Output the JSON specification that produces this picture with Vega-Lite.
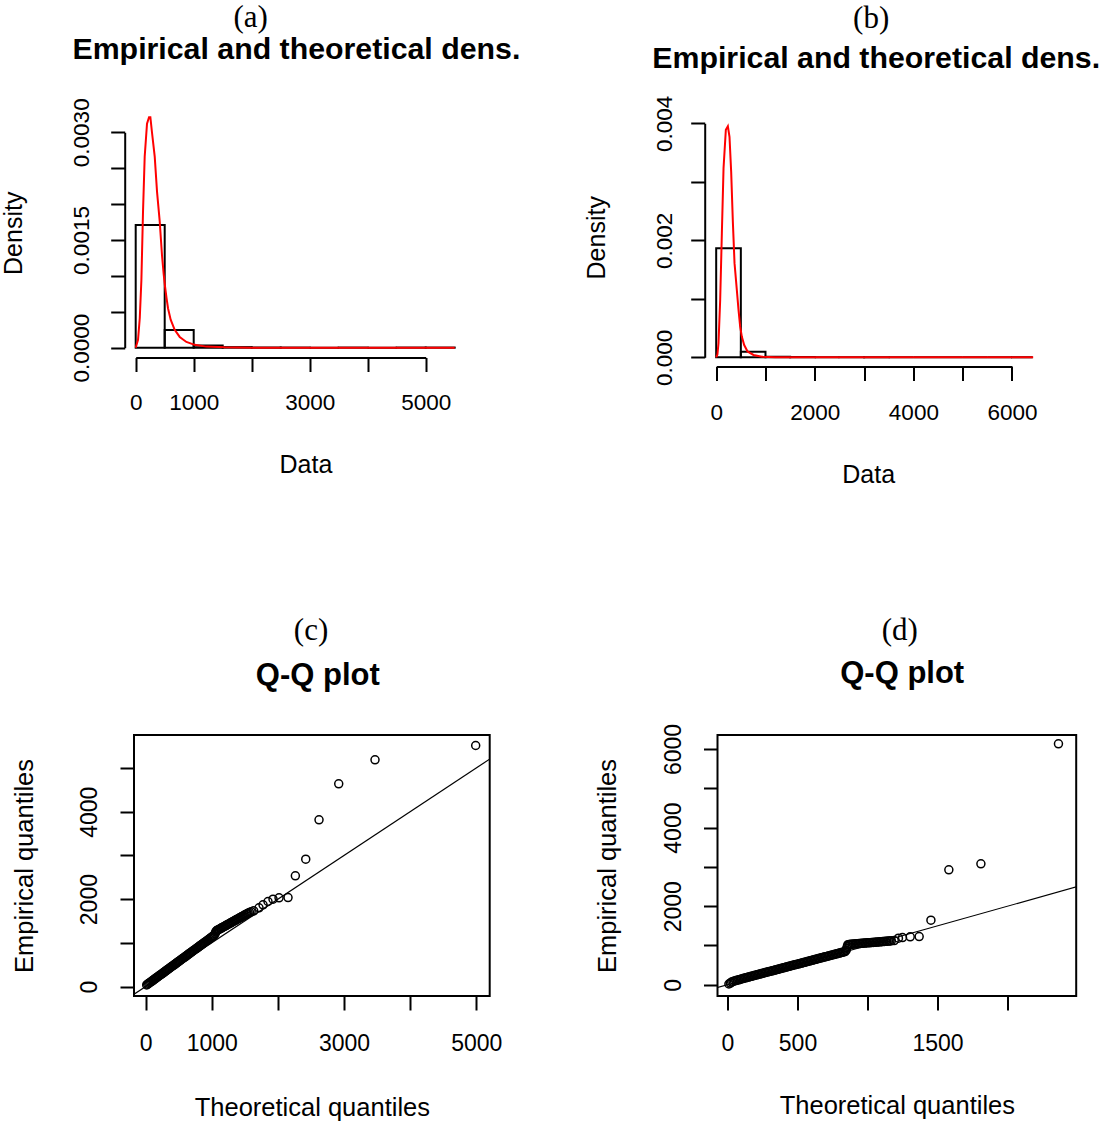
{
  "$schema": "https://vega.github.io/schema/vega-lite/v6.json",
  "background": "white",
  "padding": {"left": 1, "top": 2, "right": 5, "bottom": 5},
  "autosize": {"type": "pad"},
  "config": {
    "font": "Liberation Sans",
    "view": {"stroke": null},
    "axis": {
      "grid": false,
      "labelColor": "black",
      "tickColor": "black",
      "domainColor": "black",
      "titleColor": "black",
      "labelFont": "Liberation Sans",
      "titleFont": "Liberation Sans",
      "titleFontWeight": "normal",
      "labelOverlap": false,
      "labelFlush": false,
      "tickWidth": 2,
      "domainWidth": 2,
      "tickSize": 14
    },
    "title": {"font": "Liberation Serif", "fontSize": 31, "fontWeight": "normal", "color": "black", "anchor": "middle", "frame": "group"}
  },
  "columns": 2,
  "spacing": {"row": 366, "column": 224.5},
  "bounds": "flush",
  "align": "all",
  "concat": [
    {
      "width": 342.9,
      "height": 249.5,
      "view": {"stroke": null},
      "title": {"text": "(a)", "dx": -54.75, "offset": 0},
      "resolve": {"axis": {"x": "independent"}},
      "layer": [
        {
          "data": {"values": [
            {"start": 0, "end": 500, "density": 0.001709},
            {"start": 500, "end": 1000, "density": 0.000246},
            {"start": 1000, "end": 1500, "density": 0.00003},
            {"start": 1500, "end": 2000, "density": 0.000008},
            {"start": 2000, "end": 2500, "density": 0.000004},
            {"start": 2500, "end": 3000, "density": 0.000002},
            {"start": 3000, "end": 3500, "density": 0},
            {"start": 3500, "end": 4000, "density": 0.000002},
            {"start": 4000, "end": 4500, "density": 0},
            {"start": 4500, "end": 5000, "density": 0.000002},
            {"start": 5000, "end": 5500, "density": 0.000002}
          ]},
          "mark": {"type": "rect", "fill": "white", "fillOpacity": 0, "stroke": "black", "strokeWidth": 2},
          "encoding": {
            "x": {"field": "start", "type": "quantitative", "scale": {"domain": [-29.3, 5882.8], "nice": false, "zero": false},
              "axis": {"title": "Data", "values": [0, 1000, 2000, 3000, 4000, 5000], "format": "d",
                "labelExpr": "indexof([0,1000,3000,5000], datum.value) >= 0 ? datum.label : ''",
                "labelFontSize": 22.5, "labelPadding": 20, "titleFontSize": 25, "titlePadding": 38,
                "domainDash": [290, 3000], "domainDashOffset": 3288.3}},
            "x2": {"field": "end"},
            "y": {"field": "density", "type": "quantitative", "scale": {"domain": [-0.0001365, 0.003338], "nice": false, "zero": false},
              "axis": {"title": "Density", "offset": 9.3, "values": [0, 0.0005, 0.001, 0.0015, 0.002, 0.0025, 0.003], "format": ".4f",
                "labelExpr": "datum.value === 0 || datum.value === 0.0015 || datum.value === 0.003 ? datum.label : ''",
                "labelAngle": -90, "labelAlign": "center", "labelBaseline": "alphabetic", "labelPadding": 22,
                "labelFontSize": 22.5, "titleFontSize": 25, "titlePadding": 44,
                "domainDash": [215.4, 3000], "domainDashOffset": 3205.6}},
            "y2": {"datum": 0}
          }
        },
        {
          "data": {"values": [
            {"x": 0, "d": 0}, {"x": 40, "d": 0.00011}, {"x": 70, "d": 0.00041}, {"x": 98, "d": 0.00094},
            {"x": 126, "d": 0.00189}, {"x": 155, "d": 0.00266}, {"x": 195, "d": 0.00312}, {"x": 230, "d": 0.00321},
            {"x": 253, "d": 0.00321}, {"x": 282, "d": 0.00299}, {"x": 328, "d": 0.00266}, {"x": 368, "d": 0.00217},
            {"x": 414, "d": 0.00176}, {"x": 454, "d": 0.00128}, {"x": 483, "d": 0.00102}, {"x": 506, "d": 0.00085},
            {"x": 530, "d": 0.0007}, {"x": 557, "d": 0.00055}, {"x": 603, "d": 0.00039}, {"x": 672, "d": 0.00025},
            {"x": 759, "d": 0.00015}, {"x": 874, "d": 0.00008}, {"x": 1017, "d": 0.00004}, {"x": 1218, "d": 0.000015},
            {"x": 1534, "d": 0.000005}, {"x": 2000, "d": 0.000001}, {"x": 3000, "d": 0}, {"x": 4000, "d": 0},
            {"x": 5000, "d": 0}, {"x": 5500, "d": 0}
          ]},
          "mark": {"type": "line", "color": "#ff0000", "strokeWidth": 2},
          "encoding": {
            "x": {"field": "x", "type": "quantitative",
              "axis": {"orient": "top", "title": "Empirical and theoretical dens.", "labels": false, "ticks": false, "domain": false,
                "titleFontSize": 30.3, "titleFontWeight": "bold", "titleX": 161.9, "titleY": -49.7, "titleAlign": "center", "titleBaseline": "alphabetic", "titleAngle": 0}},
            "y": {"field": "d", "type": "quantitative"}
          }
        }
      ]
    },
    {
      "width": 314.2,
      "height": 258.5,
      "view": {"stroke": null},
      "title": {"text": "(b)", "dx": -3.4, "offset": 8.6},
      "resolve": {"axis": {"x": "independent"}},
      "layer": [
        {
          "data": {"values": [
            {"start": 0, "end": 500, "density": 0.001863},
            {"start": 500, "end": 1000, "density": 0.0000957},
            {"start": 1000, "end": 1500, "density": 0.00001},
            {"start": 1500, "end": 2000, "density": 0.000004},
            {"start": 2000, "end": 2500, "density": 0},
            {"start": 2500, "end": 3000, "density": 0.000002},
            {"start": 3000, "end": 3500, "density": 0.000002},
            {"start": 3500, "end": 4000, "density": 0},
            {"start": 4000, "end": 4500, "density": 0},
            {"start": 4500, "end": 5000, "density": 0},
            {"start": 5000, "end": 5500, "density": 0},
            {"start": 5500, "end": 6000, "density": 0},
            {"start": 6000, "end": 6400, "density": 0.000002}
          ]},
          "mark": {"type": "rect", "fill": "white", "fillOpacity": 0, "stroke": "black", "strokeWidth": 2},
          "encoding": {
            "x": {"field": "start", "type": "quantitative", "scale": {"domain": [-233, 6400], "range": [-12.8, 314.2], "nice": false, "zero": false},
              "axis": {"title": "Data", "values": [0, 1000, 2000, 3000, 4000, 5000, 6000], "format": "d",
                "labelExpr": "indexof([0,2000,4000,6000], datum.value) >= 0 ? datum.label : ''",
                "labelFontSize": 22.5, "labelPadding": 21, "titleFontSize": 25, "titlePadding": 38.5,
                "domainDash": [295.8, 3000], "domainDashOffset": 3284.3}},
            "x2": {"field": "end"},
            "y": {"field": "density", "type": "quantitative", "scale": {"domain": [-0.000157, 0.004262], "nice": false, "zero": false},
              "axis": {"title": "Density", "offset": 12.8, "values": [0, 0.001, 0.002, 0.003, 0.004], "format": ".3f",
                "labelExpr": "datum.value === 0 || datum.value === 0.002 || datum.value === 0.004 ? datum.label : ''",
                "labelAngle": -90, "labelAlign": "center", "labelBaseline": "alphabetic", "labelPadding": 19,
                "labelFontSize": 22.5, "titleFontSize": 25, "titlePadding": 44,
                "domainDash": [234, 3000], "domainDashOffset": 3224.8}},
            "y2": {"datum": 0}
          }
        },
        {
          "data": {"values": [
            {"x": 0, "d": 0}, {"x": 25, "d": 0.00005}, {"x": 47, "d": 0.00024}, {"x": 81, "d": 0.00098},
            {"x": 115, "d": 0.00212}, {"x": 149, "d": 0.00323}, {"x": 196, "d": 0.00389}, {"x": 237, "d": 0.00395},
            {"x": 270, "d": 0.00377}, {"x": 304, "d": 0.00317}, {"x": 338, "d": 0.00232}, {"x": 372, "d": 0.00161},
            {"x": 419, "d": 0.00115}, {"x": 453, "d": 0.00081}, {"x": 487, "d": 0.00052}, {"x": 521, "d": 0.00035},
            {"x": 568, "d": 0.00021}, {"x": 636, "d": 0.0001}, {"x": 757, "d": 0.00004}, {"x": 926, "d": 0.00001},
            {"x": 1200, "d": 0.000002}, {"x": 2000, "d": 0}, {"x": 4000, "d": 0}, {"x": 6000, "d": 0}, {"x": 6430, "d": 0}
          ]},
          "mark": {"type": "line", "color": "#ff0000", "strokeWidth": 2},
          "encoding": {
            "x": {"field": "x", "type": "quantitative",
              "axis": {"orient": "top", "title": "Empirical and theoretical dens.", "labels": false, "ticks": false, "domain": false,
                "titleFontSize": 30.3, "titleFontWeight": "bold", "titleX": 158.2, "titleY": -40.3, "titleAlign": "center", "titleBaseline": "alphabetic", "titleAngle": 0}},
            "y": {"field": "d", "type": "quantitative"}
          }
        }
      ]
    },
    {
      "width": 355.7,
      "height": 261,
      "view": {"stroke": "black", "strokeWidth": 2},
      "title": {"text": "(c)", "dx": -0.8, "offset": 12.3},
      "resolve": {"axis": {"x": "independent"}},
      "layer": [
        {
          "data": {"values": [
            {"q": 15, "e": 37}, {"q": 30, "e": 53}, {"q": 45, "e": 70}, {"q": 60, "e": 87}, {"q": 75, "e": 103},
            {"q": 90, "e": 120}, {"q": 105, "e": 137}, {"q": 120, "e": 153}, {"q": 135, "e": 170}, {"q": 150, "e": 187},
            {"q": 165, "e": 203}, {"q": 180, "e": 220}, {"q": 195, "e": 236}, {"q": 210, "e": 253}, {"q": 225, "e": 270},
            {"q": 240, "e": 286}, {"q": 255, "e": 303}, {"q": 270, "e": 320}, {"q": 285, "e": 336}, {"q": 300, "e": 353},
            {"q": 315, "e": 370}, {"q": 330, "e": 386}, {"q": 345, "e": 403}, {"q": 360, "e": 420}, {"q": 375, "e": 436},
            {"q": 390, "e": 453}, {"q": 405, "e": 470}, {"q": 420, "e": 486}, {"q": 435, "e": 503}, {"q": 450, "e": 520},
            {"q": 465, "e": 536}, {"q": 480, "e": 553}, {"q": 495, "e": 569}, {"q": 510, "e": 586}, {"q": 525, "e": 603},
            {"q": 540, "e": 619}, {"q": 555, "e": 636}, {"q": 570, "e": 653}, {"q": 585, "e": 669}, {"q": 600, "e": 686},
            {"q": 615, "e": 703}, {"q": 630, "e": 719}, {"q": 645, "e": 736}, {"q": 660, "e": 753}, {"q": 675, "e": 769},
            {"q": 690, "e": 786}, {"q": 705, "e": 803}, {"q": 720, "e": 819}, {"q": 735, "e": 836}, {"q": 750, "e": 853},
            {"q": 765, "e": 869}, {"q": 780, "e": 886}, {"q": 795, "e": 902}, {"q": 810, "e": 919}, {"q": 825, "e": 936},
            {"q": 840, "e": 952}, {"q": 855, "e": 969}, {"q": 870, "e": 986}, {"q": 885, "e": 1002}, {"q": 900, "e": 1019},
            {"q": 915, "e": 1036}, {"q": 930, "e": 1052}, {"q": 945, "e": 1069}, {"q": 960, "e": 1086}, {"q": 975, "e": 1102},
            {"q": 990, "e": 1119}, {"q": 1005, "e": 1136}, {"q": 1020, "e": 1152}, {"q": 1035, "e": 1169}, {"q": 1050, "e": 1210},
            {"q": 1060, "e": 1250}, {"q": 1070, "e": 1275}, {"q": 1085, "e": 1288}, {"q": 1100, "e": 1300}, {"q": 1115, "e": 1313},
            {"q": 1130, "e": 1325}, {"q": 1145, "e": 1338}, {"q": 1160, "e": 1351}, {"q": 1175, "e": 1363}, {"q": 1190, "e": 1376},
            {"q": 1205, "e": 1388}, {"q": 1220, "e": 1401}, {"q": 1235, "e": 1414}, {"q": 1250, "e": 1426}, {"q": 1265, "e": 1439},
            {"q": 1280, "e": 1451}, {"q": 1295, "e": 1464}, {"q": 1310, "e": 1477}, {"q": 1325, "e": 1489}, {"q": 1340, "e": 1502},
            {"q": 1355, "e": 1514}, {"q": 1370, "e": 1527}, {"q": 1385, "e": 1540}, {"q": 1400, "e": 1552}, {"q": 1415, "e": 1565},
            {"q": 1430, "e": 1577}, {"q": 1445, "e": 1590}, {"q": 1460, "e": 1603}, {"q": 1475, "e": 1615}, {"q": 1490, "e": 1628},
            {"q": 1505, "e": 1640}, {"q": 1520, "e": 1653}, {"q": 1535, "e": 1665}, {"q": 1550, "e": 1678}, {"q": 1570, "e": 1695},
            {"q": 1595, "e": 1710}, {"q": 1634, "e": 1732}, {"q": 1714, "e": 1800}, {"q": 1775, "e": 1870}, {"q": 1850, "e": 1945},
            {"q": 1926, "e": 1998}, {"q": 2017, "e": 2030}, {"q": 2153, "e": 2035}, {"q": 2264, "e": 2533}, {"q": 2421, "e": 2914},
            {"q": 2622, "e": 3814}, {"q": 2920, "e": 4638}, {"q": 3469, "e": 5187}, {"q": 4992, "e": 5515}
          ]},
          "mark": {"type": "point", "shape": "circle", "filled": false, "color": "black", "size": 64, "strokeWidth": 1.5, "opacity": 1},
          "encoding": {
            "x": {"field": "q", "type": "quantitative", "scale": {"domain": [-177, 5204], "nice": false, "zero": false},
              "axis": {"title": "Theoretical quantiles", "domain": false, "values": [0, 1000, 2000, 3000, 4000, 5000], "format": "d",
                "labelExpr": "indexof([0,1000,3000,5000], datum.value) >= 0 ? datum.label : ''",
                "labelFontSize": 23, "labelPadding": 22, "titleFontSize": 25.5, "titlePadding": 40}},
            "y": {"field": "e", "type": "quantitative", "scale": {"domain": [-217, 5755], "nice": false, "zero": false},
              "axis": {"title": "Empirical quantiles", "domain": false, "values": [0, 1000, 2000, 3000, 4000, 5000], "format": "d",
                "labelExpr": "indexof([0,2000,4000], datum.value) >= 0 ? datum.label : ''",
                "labelAngle": -90, "labelAlign": "center", "labelBaseline": "alphabetic", "labelPadding": 24,
                "labelFontSize": 23, "titleFontSize": 25.5, "titlePadding": 41}}
          }
        },
        {
          "data": {"values": [{"q": -1000, "e": -1000}, {"q": 8000, "e": 8000}]},
          "mark": {"type": "line", "color": "black", "strokeWidth": 1.2, "clip": true},
          "encoding": {
            "x": {"field": "q", "type": "quantitative",
              "axis": {"orient": "top", "title": "Q-Q plot", "labels": false, "ticks": false, "domain": false,
                "titleFontSize": 31, "titleFontWeight": "bold", "titleX": 183.3, "titleY": -50.8, "titleAlign": "center", "titleBaseline": "alphabetic", "titleAngle": 0}},
            "y": {"field": "e", "type": "quantitative"}
          }
        }
      ]
    },
    {
      "width": 358.7,
      "height": 261,
      "view": {"stroke": "black", "strokeWidth": 2},
      "title": {"text": "(d)", "dx": 3, "offset": 10.6},
      "resolve": {"axis": {"x": "independent"}},
      "layer": [
        {
          "data": {"values": [
            {"q": 10, "e": 20}, {"q": 20, "e": 45}, {"q": 30, "e": 70}, {"q": 40, "e": 85}, {"q": 50, "e": 97},
            {"q": 60, "e": 107}, {"q": 70, "e": 116}, {"q": 80, "e": 126}, {"q": 90, "e": 138}, {"q": 100, "e": 150},
            {"q": 110, "e": 159}, {"q": 120, "e": 169}, {"q": 130, "e": 178}, {"q": 140, "e": 188}, {"q": 150, "e": 197},
            {"q": 160, "e": 206}, {"q": 170, "e": 216}, {"q": 180, "e": 225}, {"q": 190, "e": 235}, {"q": 200, "e": 244},
            {"q": 210, "e": 253}, {"q": 220, "e": 263}, {"q": 230, "e": 272}, {"q": 240, "e": 282}, {"q": 250, "e": 291},
            {"q": 260, "e": 300}, {"q": 270, "e": 310}, {"q": 280, "e": 319}, {"q": 290, "e": 329}, {"q": 300, "e": 338},
            {"q": 310, "e": 347}, {"q": 320, "e": 357}, {"q": 330, "e": 366}, {"q": 340, "e": 376}, {"q": 350, "e": 385},
            {"q": 360, "e": 394}, {"q": 370, "e": 404}, {"q": 380, "e": 413}, {"q": 390, "e": 423}, {"q": 400, "e": 432},
            {"q": 410, "e": 441}, {"q": 420, "e": 451}, {"q": 430, "e": 460}, {"q": 440, "e": 470}, {"q": 450, "e": 479},
            {"q": 460, "e": 488}, {"q": 470, "e": 498}, {"q": 480, "e": 507}, {"q": 490, "e": 517}, {"q": 500, "e": 526},
            {"q": 510, "e": 535}, {"q": 520, "e": 545}, {"q": 530, "e": 554}, {"q": 540, "e": 564}, {"q": 550, "e": 573},
            {"q": 560, "e": 582}, {"q": 570, "e": 592}, {"q": 580, "e": 601}, {"q": 590, "e": 611}, {"q": 600, "e": 620},
            {"q": 610, "e": 629}, {"q": 620, "e": 639}, {"q": 630, "e": 648}, {"q": 640, "e": 658}, {"q": 650, "e": 667},
            {"q": 660, "e": 676}, {"q": 670, "e": 686}, {"q": 680, "e": 695}, {"q": 690, "e": 705}, {"q": 700, "e": 714},
            {"q": 710, "e": 723}, {"q": 720, "e": 733}, {"q": 730, "e": 742}, {"q": 740, "e": 752}, {"q": 750, "e": 761},
            {"q": 760, "e": 770}, {"q": 770, "e": 780}, {"q": 780, "e": 789}, {"q": 790, "e": 799}, {"q": 800, "e": 808},
            {"q": 810, "e": 817}, {"q": 820, "e": 827}, {"q": 830, "e": 836}, {"q": 840, "e": 846}, {"q": 848, "e": 880},
            {"q": 852, "e": 930}, {"q": 856, "e": 980}, {"q": 860, "e": 1020}, {"q": 870, "e": 1028}, {"q": 880, "e": 1031},
            {"q": 890, "e": 1034}, {"q": 900, "e": 1037}, {"q": 910, "e": 1040}, {"q": 920, "e": 1043}, {"q": 930, "e": 1046},
            {"q": 940, "e": 1049}, {"q": 950, "e": 1052}, {"q": 960, "e": 1055}, {"q": 970, "e": 1058}, {"q": 980, "e": 1061},
            {"q": 990, "e": 1064}, {"q": 1000, "e": 1067}, {"q": 1010, "e": 1070}, {"q": 1020, "e": 1073}, {"q": 1030, "e": 1076},
            {"q": 1040, "e": 1079}, {"q": 1050, "e": 1082}, {"q": 1060, "e": 1085}, {"q": 1070, "e": 1088}, {"q": 1080, "e": 1091},
            {"q": 1090, "e": 1094}, {"q": 1100, "e": 1097}, {"q": 1110, "e": 1100}, {"q": 1120, "e": 1103}, {"q": 1130, "e": 1106},
            {"q": 1140, "e": 1109}, {"q": 1150, "e": 1112}, {"q": 1160, "e": 1115}, {"q": 1170, "e": 1118}, {"q": 1191, "e": 1125},
            {"q": 1221, "e": 1187}, {"q": 1250, "e": 1203}, {"q": 1305, "e": 1222}, {"q": 1369, "e": 1228}, {"q": 1453, "e": 1644},
            {"q": 1581, "e": 2926}, {"q": 1810, "e": 3079}, {"q": 2364, "e": 6132}
          ]},
          "mark": {"type": "point", "shape": "circle", "filled": false, "color": "black", "size": 64, "strokeWidth": 1.5, "opacity": 1},
          "encoding": {
            "x": {"field": "q", "type": "quantitative", "scale": {"domain": [-71.4, 2490.7], "nice": false, "zero": false},
              "axis": {"title": "Theoretical quantiles", "domain": false, "values": [0, 500, 1000, 1500, 2000], "format": "d",
                "labelExpr": "indexof([0,500,1500], datum.value) >= 0 ? datum.label : ''",
                "labelFontSize": 23, "labelPadding": 22, "titleFontSize": 25.5, "titlePadding": 38}},
            "y": {"field": "e", "type": "quantitative", "scale": {"domain": [-285, 6356], "nice": false, "zero": false},
              "axis": {"title": "Empirical quantiles", "domain": false, "values": [0, 1000, 2000, 3000, 4000, 5000, 6000], "format": "d",
                "labelExpr": "indexof([0,2000,4000,6000], datum.value) >= 0 ? datum.label : ''",
                "labelAngle": -90, "labelAlign": "center", "labelBaseline": "alphabetic", "labelPadding": 22.7,
                "labelFontSize": 23, "titleFontSize": 25.5, "titlePadding": 42}}
          }
        },
        {
          "data": {"values": [{"q": -1000, "e": -1000}, {"q": 8000, "e": 8000}]},
          "mark": {"type": "line", "color": "black", "strokeWidth": 1.2, "clip": true},
          "encoding": {
            "x": {"field": "q", "type": "quantitative",
              "axis": {"orient": "top", "title": "Q-Q plot", "labels": false, "ticks": false, "domain": false,
                "titleFontSize": 31, "titleFontWeight": "bold", "titleX": 184.2, "titleY": -52.5, "titleAlign": "center", "titleBaseline": "alphabetic", "titleAngle": 0}},
            "y": {"field": "e", "type": "quantitative"}
          }
        }
      ]
    }
  ]
}
